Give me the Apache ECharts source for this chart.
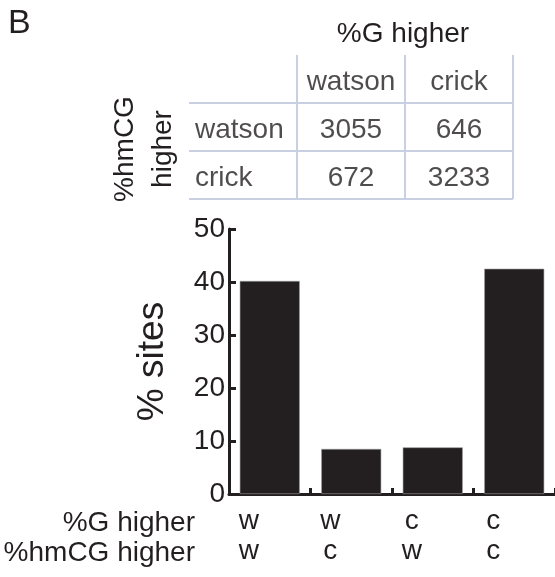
<!DOCTYPE html>
<html>
<head>
<meta charset="utf-8">
<script src="https://cdn.jsdelivr.net/npm/echarts@6/dist/echarts.min.js"></script>
<style>html,body{margin:0;padding:0;background:#fff;}#c{width:555px;height:577px;}</style>
</head>
<body>
<div id="c"></div>
<script>
// ---- data ----
var barCats = ['ww', 'wc', 'cw', 'cc'];
var gHigher = ['w', 'w', 'c', 'c'];
var hmcgHigher = ['w', 'c', 'w', 'c'];
var pctSites = [40.2, 8.5, 8.8, 42.5];
var yTicks = [0, 10, 20, 30, 40, 50];

var colHeaders = ['watson', 'crick'];
var rowHeaders = ['watson', 'crick'];
var counts = [[3055, 646], [672, 3233]];

var tableCols = ['rowlab', 'watson', 'crick'];
var tableRows = ['head', 'watson', 'crick'];

// ---- build ----
var FONT = '"Liberation Sans", Arial, Helvetica, sans-serif';
var INK = '#231f20';
var LINE = '#c9d0e2';

var cells = [];
colHeaders.forEach(function (h, i) {
  cells.push({ value: [i + 1, 0, h] });
});
rowHeaders.forEach(function (h, r) {
  cells.push({ value: [0, r + 1, h], label: { align: 'left', offset: [-48, 3] } });
  counts[r].forEach(function (v, c) {
    cells.push({ value: [c + 1, r + 1, String(v)] });
  });
});

var chart = echarts.init(document.getElementById('c'), null, { renderer: 'canvas' });
chart.setOption({
  animation: false,
  backgroundColor: '#fff',
  textStyle: { fontFamily: FONT, color: INK },
  grid: [
    { left: 229, top: 229, width: 328, height: 265 },
    { left: 189, top: 55, width: 324, height: 144 }
  ],
  xAxis: [
    {
      gridIndex: 0,
      type: 'category',
      data: barCats,
      axisLine: { lineStyle: { color: INK, width: 3 } },
      axisTick: { show: true, inside: true, length: 6, lineStyle: { color: INK, width: 3 } },
      axisLabel: {
        margin: 12,
        fontSize: 28,
        lineHeight: 30,
        color: INK,
        fontFamily: FONT,
        padding: [0, 42, 0, 0],
        formatter: function (v, i) { return gHigher[i] + '\n' + hmcgHigher[i]; }
      }
    },
    {
      gridIndex: 1,
      type: 'category',
      data: tableCols,
      axisLine: { show: false },
      axisTick: { show: false },
      axisLabel: { show: false },
      splitLine: {
        show: true,
        interval: function (index) { return index > 0; },
        lineStyle: { color: LINE, width: 2 }
      }
    }
  ],
  yAxis: [
    {
      gridIndex: 0,
      type: 'value',
      min: 0,
      max: 50,
      interval: 10,
      name: '% sites',
      nameLocation: 'middle',
      nameRotate: 90,
      nameGap: 58,
      nameTextStyle: { fontSize: 37, color: INK, fontFamily: FONT },
      axisLine: { show: true, lineStyle: { color: INK, width: 3 } },
      axisTick: { show: true, inside: true, length: 7, lineStyle: { color: INK, width: 3 } },
      axisLabel: { fontSize: 28, margin: 4, color: INK, fontFamily: FONT },
      splitLine: { show: false }
    },
    {
      gridIndex: 1,
      type: 'category',
      data: tableRows,
      inverse: true,
      axisLine: { show: false },
      axisTick: { show: false },
      axisLabel: { show: false },
      splitLine: {
        show: true,
        interval: function (index) { return index > 0; },
        lineStyle: { color: LINE, width: 2 }
      }
    }
  ],
  series: [
    {
      type: 'bar',
      xAxisIndex: 0,
      yAxisIndex: 0,
      data: pctSites,
      barWidth: 60,
      itemStyle: { color: INK, borderColor: '#9a9898', borderWidth: 0.6 }
    },
    {
      type: 'scatter',
      xAxisIndex: 1,
      yAxisIndex: 1,
      symbolSize: 0,
      silent: true,
      data: cells,
      label: {
        show: true,
        position: 'inside',
        offset: [0, 3],
        fontSize: 28,
        color: INK,
        fontFamily: FONT,
        formatter: function (p) { return p.value[2]; }
      }
    }
  ],
  graphic: [
    { type: 'text', left: 8, top: 7, style: { text: 'B', font: '34px ' + FONT, fill: INK } },
    { type: 'text', x: 403, y: 34, style: { text: '%G higher', font: '28px ' + FONT, fill: INK, textAlign: 'center', textVerticalAlign: 'middle' } },
    { type: 'text', x: 144, y: 149, rotation: Math.PI / 2, style: { text: '%hmCG\nhigher', font: '28px ' + FONT, lineHeight: 38, fill: INK, textAlign: 'center', textVerticalAlign: 'middle' } },
    { type: 'text', x: 195, y: 523, style: { text: '%G higher', font: '28px ' + FONT, fill: INK, textAlign: 'right', textVerticalAlign: 'middle' } },
    { type: 'text', x: 195, y: 553, style: { text: '%hmCG higher', font: '28px ' + FONT, fill: INK, textAlign: 'right', textVerticalAlign: 'middle' } }
  ]
});
</script>
</body>
</html>
